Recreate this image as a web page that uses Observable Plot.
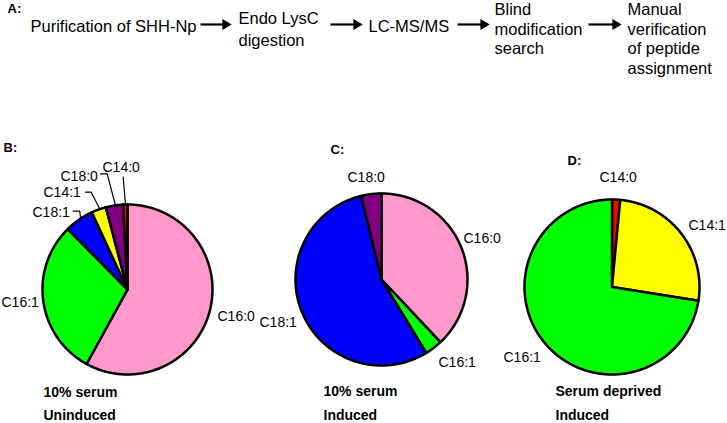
<!DOCTYPE html>
<html><head><meta charset="utf-8">
<script src="https://cdn.jsdelivr.net/npm/d3@7"></script>
<script src="https://cdn.jsdelivr.net/npm/@observablehq/plot@0.6"></script>
<style>html,body{margin:0;padding:0;background:#fff} svg{display:block}</style>
</head><body><div id="chart"></div>
<script>
// ---------- data ----------
const acids = ["C14:0", "C14:1", "C16:0", "C16:1", "C18:0", "C18:1"];
const acidColors = ["#ff0000", "#ffff00", "#ff99cc", "#00ff00", "#800080", "#0000ff"];

const pieBNames = ["C16:0", "C16:1", "C18:1", "C14:1", "C18:0", "C14:0"];
const pieBValues = [58.0, 29.6, 5.5, 2.8, 3.3, 0.8];
const pieCNames = ["C16:0", "C16:1", "C18:1", "C18:0"];
const pieCValues = [38.0, 3.3, 54.9, 3.8];
const pieDNames = ["C14:0", "C14:1", "C16:1"];
const pieDValues = [1.5, 26.0, 72.5];

const panelLetters = ["A:", "B:", "C:", "D:"];
const conditions = ["10% serum", "10% serum", "Serum deprived"];
const inductions = ["Uninduced", "Induced", "Induced"];
const flowSteps = [
  ["Purification of SHH-Np"],
  ["Endo LysC", "digestion"],
  ["LC-MS/MS"],
  ["Blind", "modification", "search"],
  ["Manual", "verification", "of peptide", "assignment"]
];

// ---------- layout ----------
const pieLayout = [{cx: 127, cy: 289, r: 85}, {cx: 381, cy: 279, r: 86}, {cx: 611.5, cy: 286.5, r: 87.5}];
const sliceLabelPos = [
  [[217, 316], [1, 302], [32, 212], [43, 192], [60, 176], [102, 167]],
  [[463, 238], [438, 362], [259, 322], [347, 177]],
  [[599, 177], [688, 225], [503, 357]]
];
const leaderPaths = [
  [[72.7, 210.7], [79.3, 210.7], [80, 217.5]],
  [[85, 191.7], [90.7, 191.7], [99.3, 208.6]],
  [[100, 173.3], [106.7, 173.3], [115, 205]],
  [[122.7, 176.5], [125, 204.5]]
];
const letterPos = [[7, 8], [3, 147], [330, 149], [567, 160]];
const captionPos = [[43, 392, 415], [323, 391, 415], [555, 391, 415]];
const flowPos = [{x: 30, y: [26]}, {x: 238, y: [18, 40]}, {x: 368, y: [26]}, {x: 494, y: [9.5, 29, 48.5]}, {x: 627, y: [9.5, 29, 48.5, 68]}];
const arrowPos = [[200, 230], [330, 361], [457, 488], [588, 620]];
const arrowY = 24;

// ---------- build geometry ----------
const pies = [
  {names: pieBNames, values: pieBValues},
  {names: pieCNames, values: pieCValues},
  {names: pieDNames, values: pieDValues}
];
const slicePts = [];
const sliceLabels = [];
pies.forEach((p, i) => {
  const L = pieLayout[i];
  const items = p.names.map((n, j) => ({name: n, value: p.values[j]}));
  const arcs = d3.pie().sort(null).value(d => d.value)(items);
  arcs.forEach((a, j) => {
    const id = i + "-" + j;
    const name = a.data.name;
    const n = Math.max(2, Math.ceil((a.endAngle - a.startAngle) / (Math.PI / 360)));
    slicePts.push({id, name, x: L.cx, y: L.cy});
    for (let k = 0; k <= n; k++) {
      const t = a.startAngle + (a.endAngle - a.startAngle) * k / n;
      slicePts.push({id, name, x: L.cx + L.r * Math.sin(t), y: L.cy - L.r * Math.cos(t)});
    }
    slicePts.push({id, name, x: L.cx, y: L.cy});
    const pos = sliceLabelPos[i][j];
    sliceLabels.push({text: name, x: pos[0], y: pos[1]});
  });
});

const leaderPts = leaderPaths.flatMap((pts, i) => pts.map(([x, y]) => ({id: i, x, y})));

const flowTexts = flowSteps.flatMap((lines, i) => lines.map((t, k) => ({text: t, x: flowPos[i].x, y: flowPos[i].y[k]})));
const arrows = arrowPos.map(([x1, x2]) => ({x1, x2: x2 - 5, xh: x2 - 5, y: arrowY}));

const letters = panelLetters.map((t, i) => ({text: t, x: letterPos[i][0], y: letterPos[i][1]}));
const captions = conditions.flatMap((c, i) => [
  {text: c, x: captionPos[i][0], y: captionPos[i][1]},
  {text: inductions[i], x: captionPos[i][0], y: captionPos[i][2]}
]);

const chart = Plot.plot({
  width: 727, height: 423, margin: 0,
  x: {domain: [0, 727], axis: null},
  y: {domain: [0, 423], reverse: true, axis: null},
  color: {domain: acids, range: acidColors},
  style: {fontFamily: "'Liberation Sans', Arial, sans-serif", background: "white", color: "black"},
  marks: [
    Plot.line(slicePts, {x: "x", y: "y", z: "id", fill: "name", stroke: "black", strokeWidth: 2.5, strokeLinejoin: "round", curve: "linear"}),
    Plot.line(leaderPts, {x: "x", y: "y", z: "id", stroke: "black", strokeWidth: 1.2, strokeLinejoin: "miter"}),
    Plot.text(sliceLabels, {x: "x", y: "y", text: "text", textAnchor: "start", lineAnchor: "middle", fontSize: 14, fill: "black"}),
    Plot.text(flowTexts, {x: "x", y: "y", text: "text", textAnchor: "start", lineAnchor: "middle", fontSize: 16.5, fill: "black"}),
    Plot.link(arrows, {x1: "x1", x2: "x2", y1: "y", y2: "y", stroke: "black", strokeWidth: 2.2}),
    Plot.dot(arrows, {x: "xh", y: "y", symbol: "triangle", rotate: 90, r: 4, fill: "black", stroke: "none"}),
    Plot.text(letters, {x: "x", y: "y", text: "text", textAnchor: "start", lineAnchor: "middle", fontSize: 13, fontWeight: "bold", fill: "black"}),
    Plot.text(captions, {x: "x", y: "y", text: "text", textAnchor: "start", lineAnchor: "middle", fontSize: 14, fontWeight: "bold", fill: "black"})
  ]
});
document.getElementById("chart").appendChild(chart);
</script>
</body></html>
